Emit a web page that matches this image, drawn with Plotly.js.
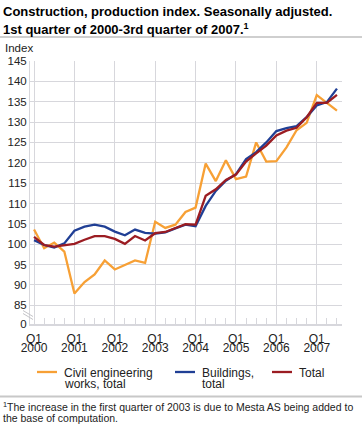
<!DOCTYPE html>
<html>
<head>
<meta charset="utf-8">
<script src="https://cdn.plot.ly/plotly-3.0.1.min.js"></script>
<style>
html,body{margin:0;padding:0;background:#fff;}
#chart{width:362px;height:424px;}
</style>
</head>
<body>
<div id="chart"></div>
<script>
// ---- data ----
const quarters = [
  '2000 Q1','2000 Q2','2000 Q3','2000 Q4',
  '2001 Q1','2001 Q2','2001 Q3','2001 Q4',
  '2002 Q1','2002 Q2','2002 Q3','2002 Q4',
  '2003 Q1','2003 Q2','2003 Q3','2003 Q4',
  '2004 Q1','2004 Q2','2004 Q3','2004 Q4',
  '2005 Q1','2005 Q2','2005 Q3','2005 Q4',
  '2006 Q1','2006 Q2','2006 Q3','2006 Q4',
  '2007 Q1','2007 Q2','2007 Q3'
];
const civilEngineering = [
  103.6, 99.0, 100.4, 98.2,
  87.9, 90.7, 92.6, 96.0,
  93.8, 94.8, 96.0, 95.4,
  105.5, 104.0, 104.8, 107.9,
  109.0, 119.8, 115.5, 120.6,
  116.0, 116.6, 125.0, 120.3,
  120.4, 123.8, 128.0, 129.8,
  136.6, 134.7, 132.8
];
const buildings = [
  101.0, 99.8, 99.2, 100.2,
  103.3, 104.3, 104.8, 104.3,
  103.1, 102.2, 103.6, 102.8,
  102.6, 102.9, 103.9, 104.8,
  104.4, 109.4, 113.1, 115.6,
  117.2, 120.9, 122.6, 125.0,
  127.8, 128.5, 129.0, 131.2,
  134.1, 134.9, 138.2
];
const total = [
  101.8, 99.8, 99.4, 99.8,
  100.1, 101.1, 102.0, 102.0,
  101.3, 100.1, 102.0, 100.9,
  102.7, 103.0, 103.9, 104.9,
  104.8, 111.9, 113.5, 115.8,
  117.1, 120.3, 122.3, 124.2,
  126.7, 127.9, 128.6, 131.2,
  134.7, 134.7, 136.7
];
const seriesNames = ['Civil engineering works, total', 'Buildings, total', 'Total'];
const legendLines = [['Civil engineering', 'works, total'], ['Buildings,', 'total'], ['Total']];
const yTickValues = [85, 90, 95, 100, 105, 110, 115, 120, 125, 130, 135, 140, 145];
const yBreakValue = 80.4;   // axis position standing in for 0 (broken axis)
const yBreakLabel = '0';
const titleLines = ['Construction, production index. Seasonally adjusted.', '1st quarter of 2000-3rd quarter of 2007.<sup>1</sup>'];
const yUnit = 'Index';
const footnoteLines = ['<sup>1</sup>The increase in the first quarter of 2003 is due to Mesta AS being added to', 'the base of computation.'];

// ---- styles ----
const colors = ['#f7a035', '#203f95', '#9b1c22'];
const gridColor = '#d7d7dc';
const textColor = '#222';
const FONT = 'Liberation Sans, Arial, sans-serif';

// geometry (pixels)
const W = 362, H = 424;
const M = {l: 30, r: 20, t: 61, b: 100};
const PW = W - M.l - M.r, PH = H - M.t - M.b;
const px = x => (x - M.l) / PW;
const py = y => (H - M.b - y) / PH;

const xIdx = quarters.map((q, i) => i);
const q1Idx = xIdx.filter(i => quarters[i].endsWith('Q1'));

const series = [civilEngineering, buildings, total];
const traces = series.map((ys, k) => ({
  type: 'scatter', mode: 'lines',
  x: xIdx, y: ys, name: seriesNames[k],
  xaxis: k === 2 ? 'x2' : 'x',
  line: {color: colors[k], width: 2.3},
  showlegend: false, hoverinfo: 'x+y'
}));

const shapes = [
  // title separator
  {type: 'line', xref: 'paper', yref: 'paper', x0: px(0), x1: px(W), y0: py(37), y1: py(37), line: {color: '#a0a0a0', width: 1.2}},
  // footnote separator
  {type: 'line', xref: 'paper', yref: 'paper', x0: px(0), x1: px(W), y0: py(396.5), y1: py(396.5), line: {color: '#c8c8c8', width: 2}},
  // axis break marks
  {type: 'line', xref: 'paper', yref: 'paper', x0: px(23), x1: px(33), y0: py(310.5), y1: py(316.5), line: {color: '#c4c4c8', width: 1}},
  {type: 'line', xref: 'paper', yref: 'paper', x0: px(23), x1: px(33), y0: py(313.5), y1: py(319.5), line: {color: '#c4c4c8', width: 1}}
];

const ann = (text, x, y, size, extra) => Object.assign({
  text: text, xref: 'paper', yref: 'paper', x: px(x), y: py(y),
  xanchor: 'left', yanchor: 'middle', showarrow: false, borderpad: 0,
  font: {family: FONT, size: size, color: textColor}
}, extra || {});

const annotations = [
  ann('<b>' + titleLines[0] + '</b>', 2, 11.5, 13, {font: {family: FONT, size: 13, color: '#000'}}),
  ann('<b>' + titleLines[1] + '</b>', 2, 28.5, 13, {font: {family: FONT, size: 13, color: '#000'}}),
  ann(yUnit, 4, 47.5, 11.5),
  ann(footnoteLines[0], 2, 406, 10.5),
  ann(footnoteLines[1], 2, 418, 10.5)
];

// legend (drawn manually for exact placement)
const legendX = [37, 175, 272];
legendLines.forEach((lines, k) => {
  shapes.push({type: 'line', xref: 'paper', yref: 'paper', x0: px(legendX[k]), x1: px(legendX[k] + 20), y0: py(372), y1: py(372), line: {color: colors[k], width: 2.3}});
  lines.forEach((t, j) => {
    annotations.push(ann(t, legendX[k] + 26, 372.5 + j * 11.5, 12));
  });
});

const layout = {
  width: W, height: H,
  margin: M,
  paper_bgcolor: '#fff', plot_bgcolor: '#fff',
  font: {family: FONT, size: 12, color: textColor},
  showlegend: false,
  xaxis: {
    range: [-0.4, 30.5], tickvals: q1Idx, ticktext: q1Idx.map(() => 'Q1'),
    showgrid: true, gridcolor: gridColor, gridwidth: 1,
    ticks: 'inside', ticklen: 6, tickcolor: gridColor,
    minor: {tickmode: 'array', tickvals: xIdx, ticks: 'inside', ticklen: 6, tickcolor: gridColor, showgrid: false},
    showline: true, linecolor: gridColor, linewidth: 1.5,
    ticklabelstandoff: 3,
    zeroline: false, fixedrange: true,
    tickfont: {family: FONT, size: 12, color: textColor}
  },
  xaxis2: {
    overlaying: 'x', matches: 'x', anchor: 'y', side: 'bottom',
    range: [-0.4, 30.5], tickvals: q1Idx, ticktext: q1Idx.map(i => quarters[i].slice(0, 4)),
    showgrid: false, ticks: '',
    ticklabelstandoff: 15, zeroline: false, showline: false, fixedrange: true,
    tickfont: {family: FONT, size: 12, color: textColor}
  },
  yaxis: {
    range: [yBreakValue, 145],
    tickvals: [yBreakValue].concat(yTickValues),
    ticktext: [yBreakLabel].concat(yTickValues.map(String)),
    showgrid: true, gridcolor: gridColor, gridwidth: 1,
    ticks: '', showline: true, linecolor: gridColor, linewidth: 1,
    zeroline: false, fixedrange: true,
    tickfont: {family: FONT, size: 11.5, color: textColor}
  },
  shapes: shapes,
  annotations: annotations
};

Plotly.newPlot('chart', traces, layout, {displayModeBar: false, staticPlot: true});
</script>
</body>
</html>
